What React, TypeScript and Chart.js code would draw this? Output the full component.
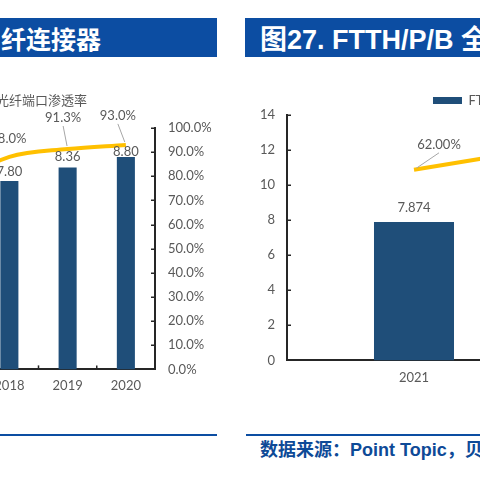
import React, { useEffect, useRef } from "react";
import { Chart, registerables } from "chart.js";

Chart.register(...registerables);

// ---------- data: left chart (partly visible) ----------
const leftYears = ["2017", "2018", "2019", "2020"];
const leftConnectorCounts = [7.3, 7.8, 8.36, 8.8];
const leftPortPenetration = [76.0, 88.0, 91.3, 93.0];
const leftSeriesNames = ["光纤连接器数量（亿只）", "光纤端口渗透率"];

// ---------- data: right chart (partly visible) ----------
const rightYears = ["2021", "2022"];
const rightSubscribers = [7.874, 9.3];
const rightPenetration = [62.0, 75.6];
const rightSeriesNames = ["FTTH/P/B用户数（亿户）", "FTTH/P/B渗透率"];

// ---------- text ----------
const leftTitle = "纤连接器";
const rightTitleCjk = "图";
const rightTitleLatin = "27. FTTH/P/B ";
const rightTitleTail = "全";
const sourceText = "数据来源：Point Topic，贝";

const NAVY = "#1F4E79";
const GOLD = "#FFC000";
const GREY_TEXT = "#595959";
const AXIS = "#262626";
const BRAND = "#0C4DA2";
const FONT = "Lato, 'Noto Sans CJK SC', sans-serif";
const TITLE_FONT = "'Liberation Sans', 'Noto Sans CJK SC', sans-serif";

Chart.defaults.font.family = FONT;

const valueLabels = {
  id: "valueLabels",
  afterDatasetsDraw(chart: any) {
    const { ctx } = chart;
    chart.data.datasets.forEach((ds: any, di: number) => {
      const cfg = ds.valueLabel;
      if (!cfg) return;
      const meta = chart.getDatasetMeta(di);
      ctx.save();
      ctx.font = `13px ${FONT}`;
      ctx.fillStyle = GREY_TEXT;
      ctx.textAlign = "center";
      ctx.textBaseline = "middle";
      meta.data.forEach((el: any, i: number) => {
        const [dx, dy] = cfg.offsets[i];
        const x = el.x + dx;
        const y = el.y + dy;
        if (cfg.leader && Math.abs(dy) > 22) {
          const sx = x;
          const sy = y + 8;
          const vx = el.x - sx;
          const vy = el.y - sy;
          const d = Math.hypot(vx, vy);
          ctx.strokeStyle = "#A6A6A6";
          ctx.lineWidth = 1;
          ctx.beginPath();
          ctx.moveTo(sx, sy);
          ctx.lineTo(el.x - (vx / d) * 3, el.y - (vy / d) * 3);
          ctx.stroke();
        }
        ctx.fillText(cfg.format(ds.data[i]), x, y);
      });
      ctx.restore();
    });
  },
};

const innerTicks = {
  id: "innerTicks",
  afterDraw(chart: any, _args: any, opts: any) {
    const { ctx } = chart;
    const len = 4;
    ctx.save();
    ctx.strokeStyle = AXIS;
    ctx.lineWidth = 1.5;
    (opts.yAxes || []).forEach((id: string) => {
      const s = chart.scales[id];
      const onRight = s.position === "right";
      const x0 = onRight ? s.left : s.right;
      const dir = onRight ? -1 : 1;
      s.ticks.forEach((_t: any, i: number) => {
        const y = Math.round(s.getPixelForTick(i)) + 0.25;
        ctx.beginPath();
        ctx.moveTo(x0, y);
        ctx.lineTo(x0 + dir * len, y);
        ctx.stroke();
      });
    });
    if (opts.xBoundaries) {
      const s = chart.scales.x;
      for (let i = 0; i < s.ticks.length - 1; i++) {
        const x = (s.getPixelForTick(i) + s.getPixelForTick(i + 1)) / 2;
        ctx.beginPath();
        ctx.moveTo(x, s.top);
        ctx.lineTo(x, s.top - len);
        ctx.stroke();
      }
    }
    ctx.restore();
  },
};

const legendGap = {
  id: "legendGap",
  beforeInit(chart: any, _args: any, opts: any) {
    const legend = chart.legend;
    if (!legend) return;
    const orig = legend.fit;
    legend.fit = function () {
      orig.call(this);
      this.height += opts.extra || 0;
    };
  },
};

const bySeries = (a: any, b: any) => a.datasetIndex - b.datasetIndex;

export default function App() {
  const leftRef = useRef<HTMLCanvasElement>(null);
  const rightRef = useRef<HTMLCanvasElement>(null);

  useEffect(() => {
    const left = new Chart(leftRef.current as HTMLCanvasElement, {
      type: "bar",
      data: {
        labels: leftYears,
        datasets: [
          {
            type: "bar",
            label: leftSeriesNames[0],
            data: leftConnectorCounts,
            backgroundColor: NAVY,
            yAxisID: "y",
            order: 1,
            categoryPercentage: 1,
            barPercentage: 0.31,
            valueLabel: {
              offsets: [[0, -9], [0, -9], [0, -10.5], [0, -5]],
              format: (v: number) => v.toFixed(2),
            },
          } as any,
          {
            type: "line",
            label: leftSeriesNames[1],
            data: leftPortPenetration,
            borderColor: GOLD,
            backgroundColor: GOLD,
            borderWidth: 4,
            pointRadius: 0,
            tension: 0.35,
            yAxisID: "y1",
            order: 0,
            valueLabel: {
              offsets: [[0, -18], [-1, -18], [-4.5, -31], [-8, -29]],
              leader: true,
              format: (v: number) => v.toFixed(1) + "%",
            },
          } as any,
        ],
      },
      options: {
        responsive: false,
        animation: false,
        layout: { padding: 0 },
        plugins: {
          legend: {
            position: "top",
            labels: {
              font: { size: 13, family: FONT },
              color: GREY_TEXT,
              boxWidth: 30,
              boxHeight: 7,
              padding: 20,
              sort: bySeries,
            },
          },
          tooltip: { enabled: false },
          legendGap: { extra: 11 },
          innerTicks: { yAxes: ["y1"], xBoundaries: true },
        } as any,
        scales: {
          x: {
            grid: { display: false, drawTicks: false },
            border: { color: AXIS, width: 2 },
            ticks: { color: GREY_TEXT, font: { size: 13 }, padding: 9 },
          },
          y: {
            position: "left",
            min: 0,
            max: 10,
            ticks: { display: false },
            grid: { display: false, drawTicks: false },
            border: { display: false },
            afterFit: (s: any) => {
              s.width = 291;
            },
          },
          y1: {
            position: "right",
            min: 0,
            max: 100,
            ticks: {
              stepSize: 10,
              padding: 13,
              color: GREY_TEXT,
              font: { size: 13 },
              callback: (v: any) => Number(v).toFixed(1) + "%",
            },
            grid: { display: false, drawTicks: false },
            border: { color: AXIS, width: 2 },
            afterFit: (s: any) => {
              s.width = 61;
            },
          },
        },
      },
      plugins: [valueLabels, innerTicks, legendGap],
    });

    const right = new Chart(rightRef.current as HTMLCanvasElement, {
      type: "bar",
      data: {
        labels: rightYears,
        datasets: [
          {
            type: "bar",
            label: rightSeriesNames[0],
            data: rightSubscribers,
            backgroundColor: NAVY,
            yAxisID: "y",
            order: 1,
            categoryPercentage: 1,
            barPercentage: 0.315,
            valueLabel: {
              offsets: [[0, -14], [0, -14]],
              format: (v: number) => v.toFixed(3),
            },
          } as any,
          {
            type: "line",
            label: rightSeriesNames[1],
            data: rightPenetration,
            borderColor: GOLD,
            backgroundColor: GOLD,
            borderWidth: 4,
            pointRadius: 0,
            tension: 0,
            yAxisID: "y1",
            order: 0,
            valueLabel: {
              offsets: [[25, -25], [25, -25]],
              leader: true,
              format: (v: number) => v.toFixed(2) + "%",
            },
          } as any,
        ],
      },
      options: {
        responsive: false,
        animation: false,
        layout: { padding: 0 },
        plugins: {
          legend: {
            position: "top",
            labels: {
              font: { size: 13, family: FONT },
              color: GREY_TEXT,
              boxWidth: 29,
              boxHeight: 7,
              padding: 10,
              sort: bySeries,
            },
          },
          tooltip: { enabled: false },
          legendGap: { extra: -2.5 },
          innerTicks: { yAxes: ["y"], xBoundaries: true },
        } as any,
        scales: {
          x: {
            grid: { display: false, drawTicks: false },
            border: { color: AXIS, width: 2 },
            ticks: { color: GREY_TEXT, font: { size: 13 }, padding: 10 },
          },
          y: {
            position: "left",
            min: 0,
            max: 14,
            ticks: { stepSize: 2, padding: 12, color: GREY_TEXT, font: { size: 13 } },
            grid: { display: false, drawTicks: false },
            border: { color: AXIS, width: 2 },
            afterFit: (s: any) => {
              s.width = 47;
            },
          },
          y1: {
            position: "right",
            min: 0,
            max: 80,
            ticks: { display: false },
            grid: { display: false, drawTicks: false },
            border: { display: false },
            afterFit: (s: any) => {
              s.width = 162;
            },
          },
        },
      },
      plugins: [valueLabels, innerTicks, legendGap],
    });

    return () => {
      left.destroy();
      right.destroy();
    };
  }, []);

  const bar: React.CSSProperties = {
    position: "absolute",
    top: 18,
    height: 39,
    background: BRAND,
    color: "#fff",
    display: "flex",
    alignItems: "center",
    overflow: "hidden",
    whiteSpace: "nowrap",
    fontFamily: TITLE_FONT,
    fontWeight: "bold",
  };

  return (
    <div
      style={{
        position: "fixed",
        left: 0,
        top: 0,
        width: 480,
        height: 480,
        overflow: "hidden",
        background: "#fff",
      }}
    >
      <div style={{ ...bar, left: 0, width: 217, fontSize: 25 }}>
        <span style={{ marginLeft: 1 }}>{leftTitle}</span>
      </div>
      <div style={{ ...bar, left: 245, width: 235, fontSize: 27 }}>
        <span style={{ marginLeft: 15 }}>
          {rightTitleCjk}
          {rightTitleLatin}
          {rightTitleTail}
        </span>
      </div>

      <canvas
        ref={leftRef}
        width={585}
        height={329}
        style={{ position: "absolute", left: -369, top: 74 }}
      />
      <canvas
        ref={rightRef}
        width={717}
        height={312}
        style={{ position: "absolute", left: 240, top: 84 }}
      />

      <div style={{ position: "absolute", left: 0, top: 434, width: 217, height: 2, background: BRAND }} />
      <div style={{ position: "absolute", left: 246, top: 434, width: 234, height: 2, background: BRAND }} />
      <div
        style={{
          position: "absolute",
          left: 260,
          top: 438,
          height: 24,
          lineHeight: "24px",
          fontSize: 18,
          fontWeight: "bold",
          color: "#0E4A97",
          fontFamily: TITLE_FONT,
          whiteSpace: "nowrap",
        }}
      >
        {sourceText}
      </div>
    </div>
  );
}
